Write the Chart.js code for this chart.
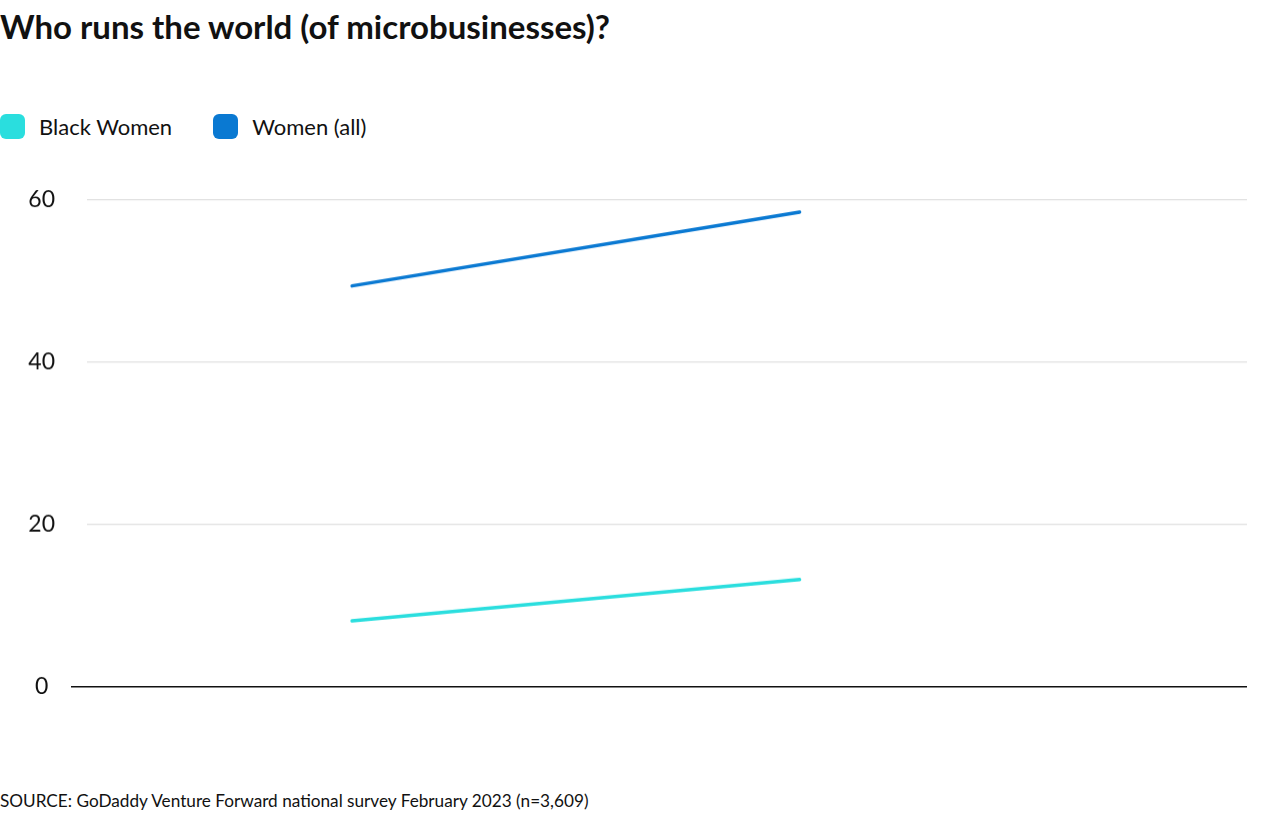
<!DOCTYPE html>
<html>
<head>
<meta charset="utf-8">
<script src="https://cdn.jsdelivr.net/npm/chart.js@4.4.0/dist/chart.umd.min.js"></script>
<style>
  html, body { margin: 0; padding: 0; background: #fff; width: 1280px; height: 823px; overflow: hidden; }
  body { font-family: Lato, "Noto Sans", sans-serif; color: #111; position: relative; }
  #title { position: absolute; left: 0; top: 5.5px; font-size: 33px; line-height: 40px; font-weight: 700; white-space: nowrap; }
  #legend { position: absolute; left: 0; top: 113.5px; display: flex; align-items: center; font-size: 22px; line-height: 26px; }
  .item { display: flex; align-items: center; margin-right: 41px; }
  .box { width: 25px; height: 25px; border-radius: 6px; margin-right: 14px; }
  #wrap { position: absolute; left: 0; top: 170px; width: 1250px; height: 545.5px; }
  #source { position: absolute; left: 0; top: 790px; font-size: 17.2px; white-space: nowrap; }
</style>
</head>
<body>
<div id="title">Who runs the world (of microbusinesses)?</div>
<div id="legend"></div>
<div id="wrap"><canvas id="c"></canvas></div>
<div id="source">SOURCE: GoDaddy Venture Forward national survey February 2023 (n=3,609)</div>
<script>
// ---- data ----
const seriesNames = ["Black Women", "Women (all)"];
const seriesColors = ["#2ADEDE", "#0A79D2"];
const years = [2019, 2023];
const blackWomen = [8.1, 13.2];
const womenAll = [49.4, 58.5];
const yTicks = [0, 20, 40, 60];
const xMin = 2016.63;
const xMax = 2027;

// legend
const legend = document.getElementById('legend');
seriesNames.forEach((n, i) => {
  const it = document.createElement('div');
  it.className = 'item';
  const b = document.createElement('div');
  b.className = 'box';
  b.style.background = seriesColors[i];
  const t = document.createElement('span');
  t.textContent = n;
  it.appendChild(b); it.appendChild(t);
  legend.appendChild(it);
});

const toPts = arr => arr.map((v, i) => ({ x: years[i], y: v }));
const seriesData = [blackWomen, womenAll];

new Chart(document.getElementById('c'), {
  type: 'line',
  data: {
    datasets: seriesNames.map((n, i) => ({
      label: n,
      data: toPts(seriesData[i]),
      borderColor: seriesColors[i],
      backgroundColor: seriesColors[i],
      borderWidth: 3.5,
      borderCapStyle: 'round',
      pointRadius: 0,
      pointHoverRadius: 0,
      tension: 0,
      fill: false
    }))
  },
  options: {
    responsive: true,
    maintainAspectRatio: false,
    animation: false,
    layout: { padding: { top: 29, right: 3, bottom: 15, left: 0 } },
    plugins: { legend: { display: false }, tooltip: { enabled: false } },
    scales: {
      x: {
        type: 'linear',
        min: xMin,
        max: xMax,
        display: false
      },
      y: {
        min: 0,
        max: 60,
        afterFit: s => { s.width = 87; },
        afterBuildTicks: s => { s.ticks = yTicks.map(v => ({ value: v })); },
        border: { display: false },
        grid: {
          color: ctx => ctx.tick && ctx.tick.value === 0 ? '#111' : '#e0e0e0',
          lineWidth: ctx => ctx.tick && ctx.tick.value === 0 ? 1.5 : 1.2,
          tickLength: 16,
          tickColor: ctx => ctx.tick && ctx.tick.value === 0 ? '#111' : 'rgba(0,0,0,0)',
          tickWidth: 1.5
        },
        ticks: {
          crossAlign: 'center',
          padding: 16,
          color: '#111',
          font: { family: 'Lato, "Noto Sans", sans-serif', size: 23 }
        }
      }
    }
  }
});
</script>
</body>
</html>
